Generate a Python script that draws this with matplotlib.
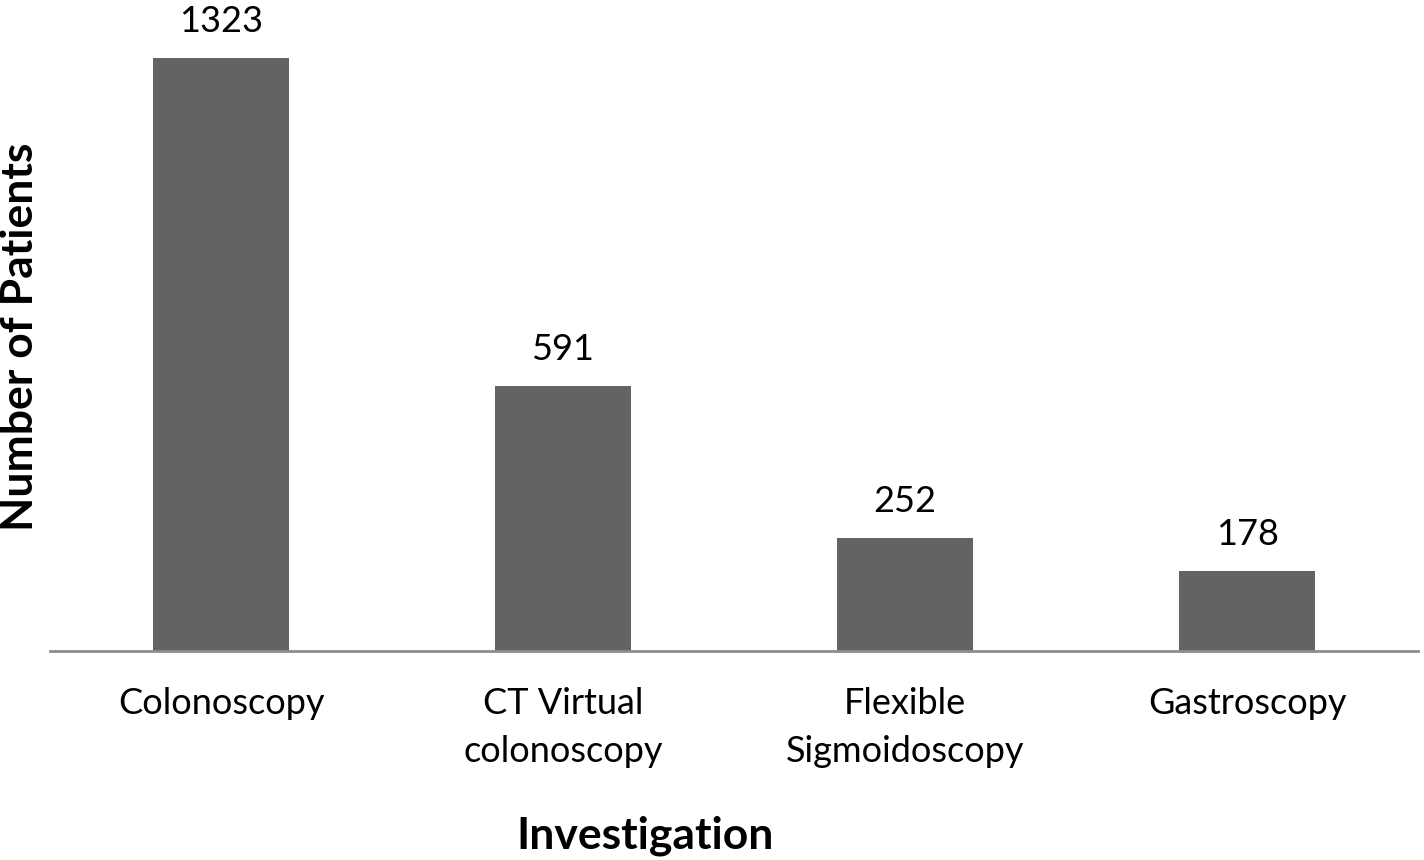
import numpy as np
from matplotlib import pyplot as plt

plt.rcParams['font.family'] = ['Lato', 'DejaVu Sans']

categories = ['Colonoscopy', 'CT Virtual\ncolonoscopy', 'Flexible\nSigmoidoscopy', 'Gastroscopy']
patients = [1323, 591, 252, 178]

fig = plt.figure(figsize=(14.24, 8.6), dpi=100)
ax = fig.add_axes([50/1424, 1 - 651/860, 1368/1424, 651/860])

x = np.arange(len(categories))
bars = ax.bar(x, patients, width=0.40, color='#636363')

for xi, v in zip(x, patients):
    ax.text(xi, v + 45, str(v), ha='center', va='bottom', fontsize=26, color='black')

ax.set_xlim(-0.5, len(categories) - 0.5)
ax.set_ylim(0, 1452)
ax.set_yticks([])
ax.set_xticks(x)
ax.set_xticklabels(categories, fontsize=26, linespacing=1.55)
ax.tick_params(axis='x', length=0, pad=26)

for s in ['top', 'right', 'left']:
    ax.spines[s].set_visible(False)
ax.spines['bottom'].set_color('#8c8c8c')
ax.spines['bottom'].set_linewidth(2)

fig.text(20/1424, 1 - 337/860, 'Number of Patients', rotation=90, ha='center', va='center',
         fontsize=32, fontweight='bold')
fig.text(645/1424, 1 - 836/860, 'Investigation', ha='center', va='center',
         fontsize=32, fontweight='bold')

fig.savefig('out.png', dpi=100)
